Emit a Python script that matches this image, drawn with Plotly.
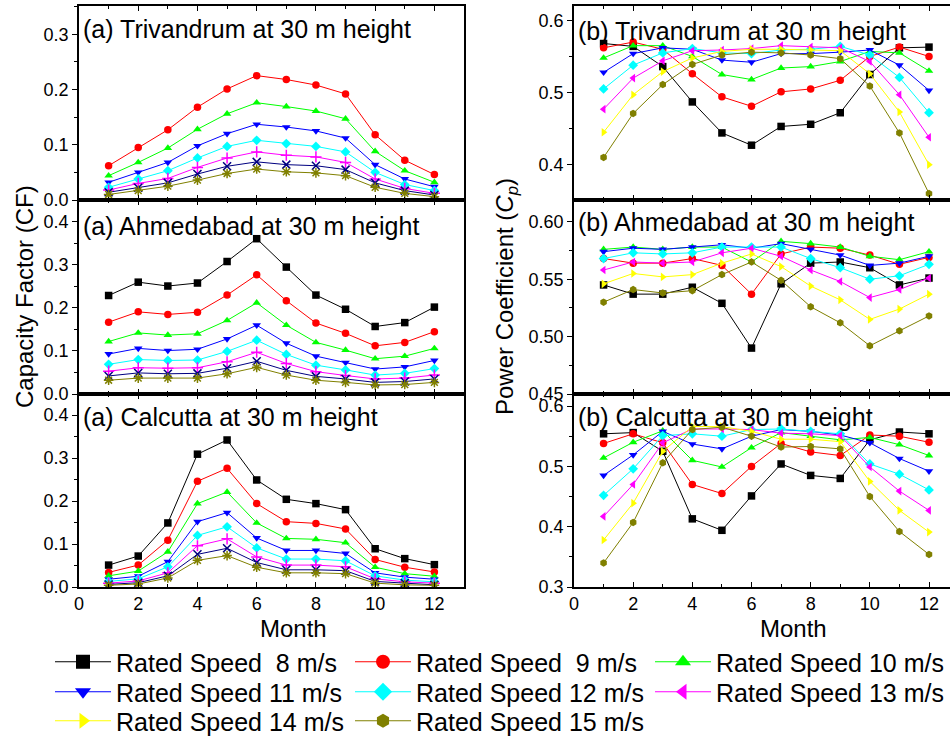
import plotly.graph_objects as go

W, H = 950, 738
months = list(range(1, 13))
speed_labels = ["Rated Speed\u00a0 8 m/s", "Rated Speed\u00a0 9 m/s", "Rated Speed 10 m/s",
                "Rated Speed 11 m/s", "Rated Speed 12 m/s", "Rated Speed 13 m/s",
                "Rated Speed 14 m/s", "Rated Speed 15 m/s"]
panel_titles = ["(a) Trivandrum at 30 m height", "(a) Ahmedabad at 30 m height", "(a) Calcutta at 30 m height",
                "(b) Trivandrum at 30 m height", "(b) Ahmedabad at 30 m height", "(b) Calcutta at 30 m height"]

# ---- Capacity factor, Trivandrum (8 m/s off scale) ----
tri_cf_09 = [0.062, 0.095, 0.127, 0.168, 0.201, 0.225, 0.218, 0.208, 0.192, 0.118, 0.072, 0.046]
tri_cf_10 = [0.044, 0.068, 0.094, 0.128, 0.156, 0.176, 0.169, 0.161, 0.147, 0.088, 0.053, 0.032]
tri_cf_11 = [0.032, 0.050, 0.068, 0.098, 0.120, 0.137, 0.132, 0.125, 0.112, 0.064, 0.038, 0.024]
tri_cf_12 = [0.023, 0.038, 0.053, 0.076, 0.097, 0.108, 0.102, 0.097, 0.087, 0.050, 0.028, 0.017]
tri_cf_13 = [0.018, 0.030, 0.039, 0.059, 0.076, 0.087, 0.081, 0.078, 0.068, 0.038, 0.021, 0.012]
tri_cf_14 = [0.014, 0.022, 0.031, 0.047, 0.061, 0.069, 0.064, 0.062, 0.055, 0.031, 0.017, 0.009]
tri_cf_15 = [0.010, 0.017, 0.025, 0.036, 0.048, 0.056, 0.051, 0.049, 0.044, 0.023, 0.012, 0.006]

# ---- Capacity factor, Ahmedabad ----
ahm_cf_08 = [0.229, 0.260, 0.251, 0.258, 0.308, 0.361, 0.295, 0.230, 0.197, 0.157, 0.166, 0.202]
ahm_cf_09 = [0.167, 0.191, 0.185, 0.190, 0.230, 0.277, 0.217, 0.165, 0.141, 0.112, 0.120, 0.145]
ahm_cf_10 = [0.122, 0.142, 0.137, 0.140, 0.171, 0.212, 0.160, 0.120, 0.102, 0.082, 0.088, 0.106]
ahm_cf_11 = [0.093, 0.106, 0.101, 0.104, 0.128, 0.160, 0.118, 0.088, 0.073, 0.058, 0.063, 0.078]
ahm_cf_12 = [0.069, 0.080, 0.078, 0.079, 0.099, 0.125, 0.092, 0.067, 0.056, 0.044, 0.048, 0.059]
ahm_cf_13 = [0.053, 0.061, 0.060, 0.061, 0.075, 0.097, 0.071, 0.052, 0.043, 0.035, 0.037, 0.044]
ahm_cf_14 = [0.042, 0.049, 0.047, 0.048, 0.060, 0.076, 0.055, 0.041, 0.035, 0.027, 0.029, 0.035]
ahm_cf_15 = [0.032, 0.037, 0.037, 0.037, 0.047, 0.062, 0.044, 0.032, 0.027, 0.021, 0.022, 0.027]

# ---- Capacity factor, Calcutta ----
cal_cf_08 = [0.051, 0.072, 0.149, 0.309, 0.342, 0.249, 0.204, 0.194, 0.180, 0.089, 0.066, 0.052]
cal_cf_09 = [0.034, 0.051, 0.109, 0.246, 0.276, 0.194, 0.152, 0.148, 0.135, 0.064, 0.046, 0.035]
cal_cf_10 = [0.026, 0.037, 0.082, 0.194, 0.221, 0.149, 0.113, 0.111, 0.103, 0.046, 0.031, 0.025]
cal_cf_11 = [0.018, 0.025, 0.059, 0.152, 0.173, 0.114, 0.085, 0.085, 0.078, 0.033, 0.023, 0.018]
cal_cf_12 = [0.013, 0.019, 0.047, 0.120, 0.140, 0.091, 0.065, 0.065, 0.061, 0.026, 0.016, 0.012]
cal_cf_13 = [0.009, 0.014, 0.033, 0.096, 0.112, 0.070, 0.051, 0.051, 0.047, 0.019, 0.012, 0.009]
cal_cf_14 = [0.006, 0.010, 0.026, 0.076, 0.090, 0.057, 0.040, 0.040, 0.038, 0.013, 0.009, 0.005]
cal_cf_15 = [0.004, 0.007, 0.021, 0.062, 0.073, 0.046, 0.033, 0.033, 0.031, 0.009, 0.005, 0.004]

# ---- Power coefficient, Trivandrum ----
tri_cp_08 = [0.568, 0.564, 0.536, 0.487, 0.444, 0.427, 0.453, 0.456, 0.472, 0.525, 0.562, 0.563]
tri_cp_09 = [0.562, 0.570, 0.560, 0.526, 0.494, 0.481, 0.501, 0.505, 0.517, 0.550, 0.563, 0.550]
tri_cp_10 = [0.548, 0.565, 0.565, 0.550, 0.525, 0.518, 0.534, 0.536, 0.543, 0.557, 0.555, 0.530]
tri_cp_11 = [0.528, 0.554, 0.562, 0.560, 0.545, 0.542, 0.554, 0.554, 0.556, 0.559, 0.538, 0.503]
tri_cp_12 = [0.505, 0.538, 0.555, 0.561, 0.555, 0.554, 0.559, 0.560, 0.564, 0.552, 0.521, 0.472]
tri_cp_13 = [0.477, 0.520, 0.544, 0.558, 0.559, 0.561, 0.565, 0.563, 0.562, 0.543, 0.497, 0.438]
tri_cp_14 = [0.445, 0.497, 0.529, 0.548, 0.557, 0.560, 0.560, 0.559, 0.558, 0.526, 0.473, 0.400]
tri_cp_15 = [0.410, 0.471, 0.511, 0.539, 0.552, 0.556, 0.555, 0.552, 0.547, 0.509, 0.444, 0.360]

# ---- Power coefficient, Ahmedabad ----
ahm_cp_08 = [0.545, 0.537, 0.537, 0.543, 0.529, 0.490, 0.546, 0.564, 0.565, 0.560, 0.545, 0.551]
ahm_cp_09 = [0.568, 0.564, 0.564, 0.568, 0.562, 0.537, 0.572, 0.578, 0.577, 0.571, 0.563, 0.569]
ahm_cp_10 = [0.576, 0.578, 0.576, 0.578, 0.578, 0.565, 0.583, 0.581, 0.578, 0.570, 0.567, 0.574]
ahm_cp_11 = [0.574, 0.577, 0.576, 0.578, 0.580, 0.577, 0.581, 0.576, 0.571, 0.562, 0.564, 0.570]
ahm_cp_12 = [0.568, 0.573, 0.572, 0.573, 0.578, 0.578, 0.578, 0.568, 0.560, 0.550, 0.553, 0.563]
ahm_cp_13 = [0.558, 0.565, 0.564, 0.565, 0.573, 0.577, 0.570, 0.558, 0.548, 0.534, 0.541, 0.551]
ahm_cp_14 = [0.546, 0.555, 0.552, 0.554, 0.564, 0.572, 0.561, 0.544, 0.532, 0.515, 0.524, 0.537]
ahm_cp_15 = [0.530, 0.541, 0.538, 0.540, 0.554, 0.565, 0.549, 0.526, 0.512, 0.492, 0.505, 0.518]

# ---- Power coefficient, Calcutta ----
cal_cp_08 = [0.554, 0.556, 0.525, 0.413, 0.394, 0.451, 0.504, 0.485, 0.480, 0.544, 0.557, 0.554]
cal_cp_09 = [0.538, 0.554, 0.539, 0.470, 0.455, 0.500, 0.538, 0.524, 0.518, 0.552, 0.550, 0.540]
cal_cp_10 = [0.514, 0.540, 0.559, 0.510, 0.499, 0.531, 0.556, 0.550, 0.544, 0.548, 0.536, 0.518]
cal_cp_11 = [0.485, 0.519, 0.558, 0.537, 0.529, 0.550, 0.561, 0.558, 0.552, 0.539, 0.513, 0.492]
cal_cp_12 = [0.452, 0.496, 0.551, 0.554, 0.550, 0.561, 0.562, 0.558, 0.554, 0.504, 0.487, 0.461]
cal_cp_13 = [0.417, 0.470, 0.539, 0.562, 0.562, 0.561, 0.555, 0.554, 0.551, 0.499, 0.459, 0.427]
cal_cp_14 = [0.378, 0.439, 0.525, 0.566, 0.566, 0.558, 0.545, 0.545, 0.541, 0.475, 0.427, 0.391]
cal_cp_15 = [0.340, 0.407, 0.506, 0.561, 0.565, 0.550, 0.532, 0.533, 0.529, 0.450, 0.392, 0.354]

panels_data = [
    [None, tri_cf_09, tri_cf_10, tri_cf_11, tri_cf_12, tri_cf_13, tri_cf_14, tri_cf_15],
    [ahm_cf_08, ahm_cf_09, ahm_cf_10, ahm_cf_11, ahm_cf_12, ahm_cf_13, ahm_cf_14, ahm_cf_15],
    [cal_cf_08, cal_cf_09, cal_cf_10, cal_cf_11, cal_cf_12, cal_cf_13, cal_cf_14, cal_cf_15],
    [tri_cp_08, tri_cp_09, tri_cp_10, tri_cp_11, tri_cp_12, tri_cp_13, tri_cp_14, tri_cp_15],
    [ahm_cp_08, ahm_cp_09, ahm_cp_10, ahm_cp_11, ahm_cp_12, ahm_cp_13, ahm_cp_14, ahm_cp_15],
    [cal_cp_08, cal_cp_09, cal_cp_10, cal_cp_11, cal_cp_12, cal_cp_13, cal_cp_14, cal_cp_15],
]

# ---- styles ----
FONT = "Liberation Sans, Arial, sans-serif"
right_colors = ["#000000", "#FF0000", "#00FF00", "#0000FF", "#00FFFF", "#FF00FF", "#FFFF00", "#808000"]
right_symbols = ["square", "circle", "triangle-up", "triangle-down", "diamond", "triangle-left", "triangle-right", "hexagon"]
left_colors = ["#000000", "#FF0000", "#00FF00", "#0000FF", "#00FFFF", "#FF00FF", "#000080", "#808000"]
left_symbols = ["square", "circle", "triangle-up", "triangle-down", "diamond", "cross-thin-open", "x-thin-open", "asterisk-open"]

def px_x(p):
    return p / W

def px_y(p):
    return 1 - p / H

row_px = [(6, 200), (200, 394), (394, 587)]
left_dom = [px_x(79), px_x(464)]
right_dom = [px_x(574), 1.0]
y_ranges = [[0, 0.351], [0, 0.451], [0, 0.449], [0.351, 0.62], [0.45, 0.619], [0.3, 0.62]]
y_dticks = [0.1, 0.1, 0.1, 0.1, 0.05, 0.1]
y_minor = [0.05, 0.05, 0.05, 0.05, 0.025, 0.05]
y_fmt = [".1f", ".1f", ".1f", ".1f", ".2f", ".1f"]
x_ranges = [[0, 13]] * 3 + [[0, 12.71]] * 3

fig = go.Figure()

for p in range(6):
    ax = "" if p == 0 else str(p + 1)
    left = p < 3
    for s in range(8):
        vals = panels_data[p][s]
        if vals is None:
            continue
        col = left_colors[s] if left else right_colors[s]
        sym = left_symbols[s] if left else right_symbols[s]
        open_sym = sym.endswith("-open")
        fig.add_trace(go.Scatter(
            x=months, y=vals, mode="lines+markers",
            xaxis="x" + ax, yaxis="y" + ax,
            line=dict(color=col, width=1),
            marker=dict(symbol=sym, size=8 if open_sym else 7.5, color=col,
                        line=dict(color=col, width=1.5 if open_sym else 0)),
            showlegend=False, hoverinfo="skip"))

# legend-only entries (bigger markers), one legend per row
legend_of = ["legend", "legend", "legend", "legend2", "legend2", "legend2", "legend3", "legend3"]
for s in range(8):
    fig.add_trace(go.Scatter(
        x=[None], y=[None], mode="lines+markers", name=speed_labels[s],
        xaxis="x4", yaxis="y4", legend=legend_of[s],
        line=dict(color=right_colors[s], width=1),
        marker=dict(symbol=right_symbols[s], size=14, color=right_colors[s], line=dict(width=0)),
        showlegend=True))

def make_legend(yc):
    return dict(orientation="h", x=px_x(50), y=px_y(yc), xanchor="left", yanchor="middle",
                entrywidth=229, entrywidthmode="pixels", itemwidth=56,
                font=dict(family=FONT, size=25, color="black"),
                bgcolor="rgba(0,0,0,0)", traceorder="normal",
                itemclick=False, itemdoubleclick=False)

layout = dict(
    width=W, height=H,
    margin=dict(l=0, r=0, t=0, b=0, autoexpand=False),
    paper_bgcolor="white", plot_bgcolor="rgba(0,0,0,0)",
    font=dict(family=FONT, size=18, color="black"),
    showlegend=True,
    legend=make_legend(662),
    legend2=make_legend(692),
    legend3=make_legend(721),
)

for p in range(6):
    ax = "" if p == 0 else str(p + 1)
    left = p < 3
    r = p % 3
    top, bot = row_px[r]
    layout["xaxis" + ax] = dict(
        domain=left_dom if left else right_dom, range=x_ranges[p], anchor="y" + ax,
        tick0=0, dtick=2, ticks="inside", ticklen=5, tickwidth=1.2, tickcolor="black",
        minor=dict(dtick=1, ticks="inside", ticklen=3, tickcolor="black"),
        showline=True, linecolor="black", linewidth=1.5, mirror="ticks",
        showgrid=False, zeroline=False, showticklabels=(r == 2),
        tickfont=dict(size=18), fixedrange=True)
    layout["yaxis" + ax] = dict(
        domain=[px_y(bot), px_y(top)], range=y_ranges[p], anchor="x" + ax,
        tick0=0, dtick=y_dticks[p], tickformat=y_fmt[p],
        ticks="outside", ticklen=5, tickwidth=1.2, tickcolor="black",
        minor=dict(dtick=y_minor[p], ticks="outside", ticklen=3, tickcolor="black"),
        showline=True, linecolor="black", linewidth=1.5, mirror=True if left else False,
        showgrid=False, zeroline=False, tickfont=dict(size=18), fixedrange=True)

# inward ticks on the right frame of the left column
for k in range(3):
    ax = "" if k == 0 else str(k + 1)
    layout["yaxis" + str(7 + k)] = dict(
        overlaying="y" + ax, anchor="x" + ax, side="right", range=y_ranges[k],
        tick0=0, dtick=y_dticks[k], ticks="inside", ticklen=5, tickwidth=1.2, tickcolor="black",
        minor=dict(dtick=y_minor[k], ticks="inside", ticklen=3, tickcolor="black"),
        showticklabels=False, showline=False, showgrid=False, zeroline=False, fixedrange=True)

title_pos = [(81, 29), (81, 226), (81, 417), (576, 31), (576, 222), (576, 417)]
annotations = []
for p in range(6):
    xp, yp = title_pos[p]
    annotations.append(dict(text=panel_titles[p], x=px_x(xp), y=px_y(yp), xref="paper", yref="paper",
                            xanchor="left", yanchor="middle", showarrow=False,
                            font=dict(family=FONT, size=25, color="black")))
annotations.append(dict(text="Capacity Factor (CF)", x=px_x(24), y=px_y(297), xref="paper", yref="paper",
                        textangle=-90, showarrow=False, xanchor="center", yanchor="middle",
                        font=dict(family=FONT, size=24, color="black")))
annotations.append(dict(text="Power Coefficient (<i>C</i><sub><i>p</i></sub>)", x=px_x(506), y=px_y(297),
                        xref="paper", yref="paper", textangle=-90, showarrow=False,
                        xanchor="center", yanchor="middle",
                        font=dict(family=FONT, size=24, color="black")))
for xc in (293, 793):
    annotations.append(dict(text="Month", x=px_x(xc), y=px_y(628), xref="paper", yref="paper",
                            showarrow=False, xanchor="center", yanchor="middle",
                            font=dict(family=FONT, size=24, color="black")))
layout["annotations"] = annotations

fig.update_layout(**layout)
fig.write_html("out.html", config={"displayModeBar": False})
